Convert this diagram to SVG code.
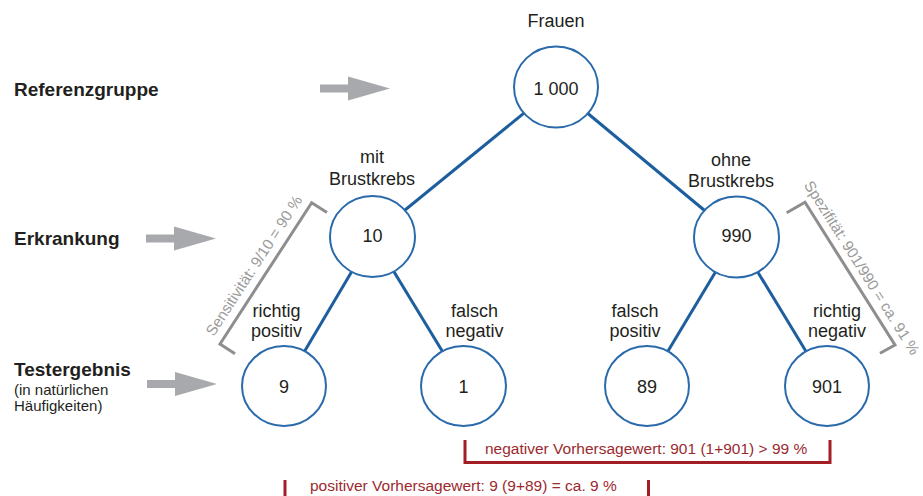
<svg xmlns="http://www.w3.org/2000/svg" xmlns:xlink="http://www.w3.org/1999/xlink" width="923" height="496" viewBox="0 0 923 496">
<style>
text { font-family: "Liberation Sans", Arial, sans-serif; fill: #231f20; }
.lbl { font-size: 18px; text-anchor: middle; }
.num { font-size: 18px; text-anchor: middle; }
.head { font-size: 19px; font-weight: bold; }
.sub { font-size: 15px; }
.node { fill: #ffffff; stroke: #2a6aab; stroke-width: 2; }
.edge { stroke: #1d5e9e; stroke-width: 3; fill: none; }
.gbr { stroke: #8e8e8e; stroke-width: 3; fill: none; }
.gtxt { font-size: 15.2px; fill: #9a9a9a; text-anchor: middle; }
.rbr { stroke: #a31d24; stroke-width: 3; fill: none; }
.rtxt { font-size: 15.5px; fill: #9b2a2f; }
.arr { fill: #a7a9ac; }
</style>
<defs>
<path id="arrow" d="M-70,-4 H-42 V-12 L0,0 L-42,12 V4 H-70 Z"/>
</defs>
<rect width="923" height="496" fill="#ffffff"/>

<g id="row-labels">
<text class="head" x="14" y="96">Referenzgruppe</text>
<text class="head" x="14" y="245">Erkrankung</text>
<text class="head" x="14" y="376">Testergebnis</text>
<text class="sub" x="14" y="395">(in natürlichen</text>
<text class="sub" x="14" y="411">Häufigkeiten)</text>
<use xlink:href="#arrow" class="arr" transform="translate(390,88.5)"/>
<use xlink:href="#arrow" class="arr" transform="translate(216,238.5)"/>
<use xlink:href="#arrow" class="arr" transform="translate(217,384)"/>
</g>

<g id="connectors">
<line class="edge" x1="556" y1="87" x2="372.5" y2="236.5"/>
<line class="edge" x1="556" y1="87" x2="736.5" y2="237"/>
<line class="edge" x1="372.5" y1="236.5" x2="284" y2="386"/>
<line class="edge" x1="372.5" y1="236.5" x2="463.5" y2="386"/>
<line class="edge" x1="736.5" y1="237" x2="647" y2="386"/>
<line class="edge" x1="736.5" y1="237" x2="827" y2="386"/>
</g>

<g id="node-root">
<text class="lbl" x="556" y="27">Frauen</text>
<ellipse class="node" cx="556" cy="87" rx="42" ry="40.5"/>
<text class="num" x="556" y="95">1 000</text>
</g>

<g id="node-mit">
<text class="lbl" x="372" y="163">mit</text>
<text class="lbl" x="372" y="185">Brustkrebs</text>
<ellipse class="node" cx="372.5" cy="236.5" rx="42.5" ry="40.5"/>
<text class="num" x="372.5" y="242">10</text>
</g>

<g id="node-ohne">
<text class="lbl" x="731" y="166">ohne</text>
<text class="lbl" x="731" y="187">Brustkrebs</text>
<ellipse class="node" cx="736.5" cy="237" rx="42.5" ry="40.5"/>
<text class="num" x="736.5" y="242">990</text>
</g>

<g id="node-rp">
<text class="lbl" x="276.5" y="317">richtig</text>
<text class="lbl" x="276.5" y="337">positiv</text>
<ellipse class="node" cx="284" cy="386" rx="42" ry="40"/>
<text class="num" x="284" y="393">9</text>
</g>

<g id="node-fn">
<text class="lbl" x="474.5" y="317">falsch</text>
<text class="lbl" x="474.5" y="337">negativ</text>
<ellipse class="node" cx="463.5" cy="386" rx="42.5" ry="40"/>
<text class="num" x="463.5" y="393">1</text>
</g>

<g id="node-fp">
<text class="lbl" x="635" y="317">falsch</text>
<text class="lbl" x="635" y="337">positiv</text>
<ellipse class="node" cx="647" cy="386" rx="42" ry="40"/>
<text class="num" x="647" y="393">89</text>
</g>

<g id="node-rn">
<text class="lbl" x="837" y="317">richtig</text>
<text class="lbl" x="837" y="337">negativ</text>
<ellipse class="node" cx="827" cy="386" rx="42" ry="40"/>
<text class="num" x="827" y="393">901</text>
</g>

<g id="sensitivity">
<polyline class="gbr" points="327,212.5 311.7,202.7 220,344 235,353.8"/>
<text class="gtxt" transform="translate(258.3,268.5) rotate(-57)" x="0" y="0">Sensitivität: 9/10 = 90 %</text>
</g>

<g id="specificity">
<polyline class="gbr" points="786.7,212.7 805,202.3 895,345 880,353.3"/>
<text class="gtxt" transform="translate(857.5,270.5) rotate(57.8)" x="0" y="0">Spezifität: 901/990 = ca. 91 %</text>
</g>

<g id="npv">
<polyline class="rbr" points="465,440 465,462.5 830,462.5 830,440"/>
<text class="rtxt" x="485" y="454">negativer Vorhersagewert: 901 (1+901) &gt; 99 %</text>
</g>

<g id="ppv">
<line class="rbr" x1="285" y1="480" x2="285" y2="496"/>
<line class="rbr" x1="648.5" y1="480" x2="648.5" y2="496"/>
<text class="rtxt" x="310" y="491">positiver Vorhersagewert: 9 (9+89) = ca. 9 %</text>
</g>
</svg>
